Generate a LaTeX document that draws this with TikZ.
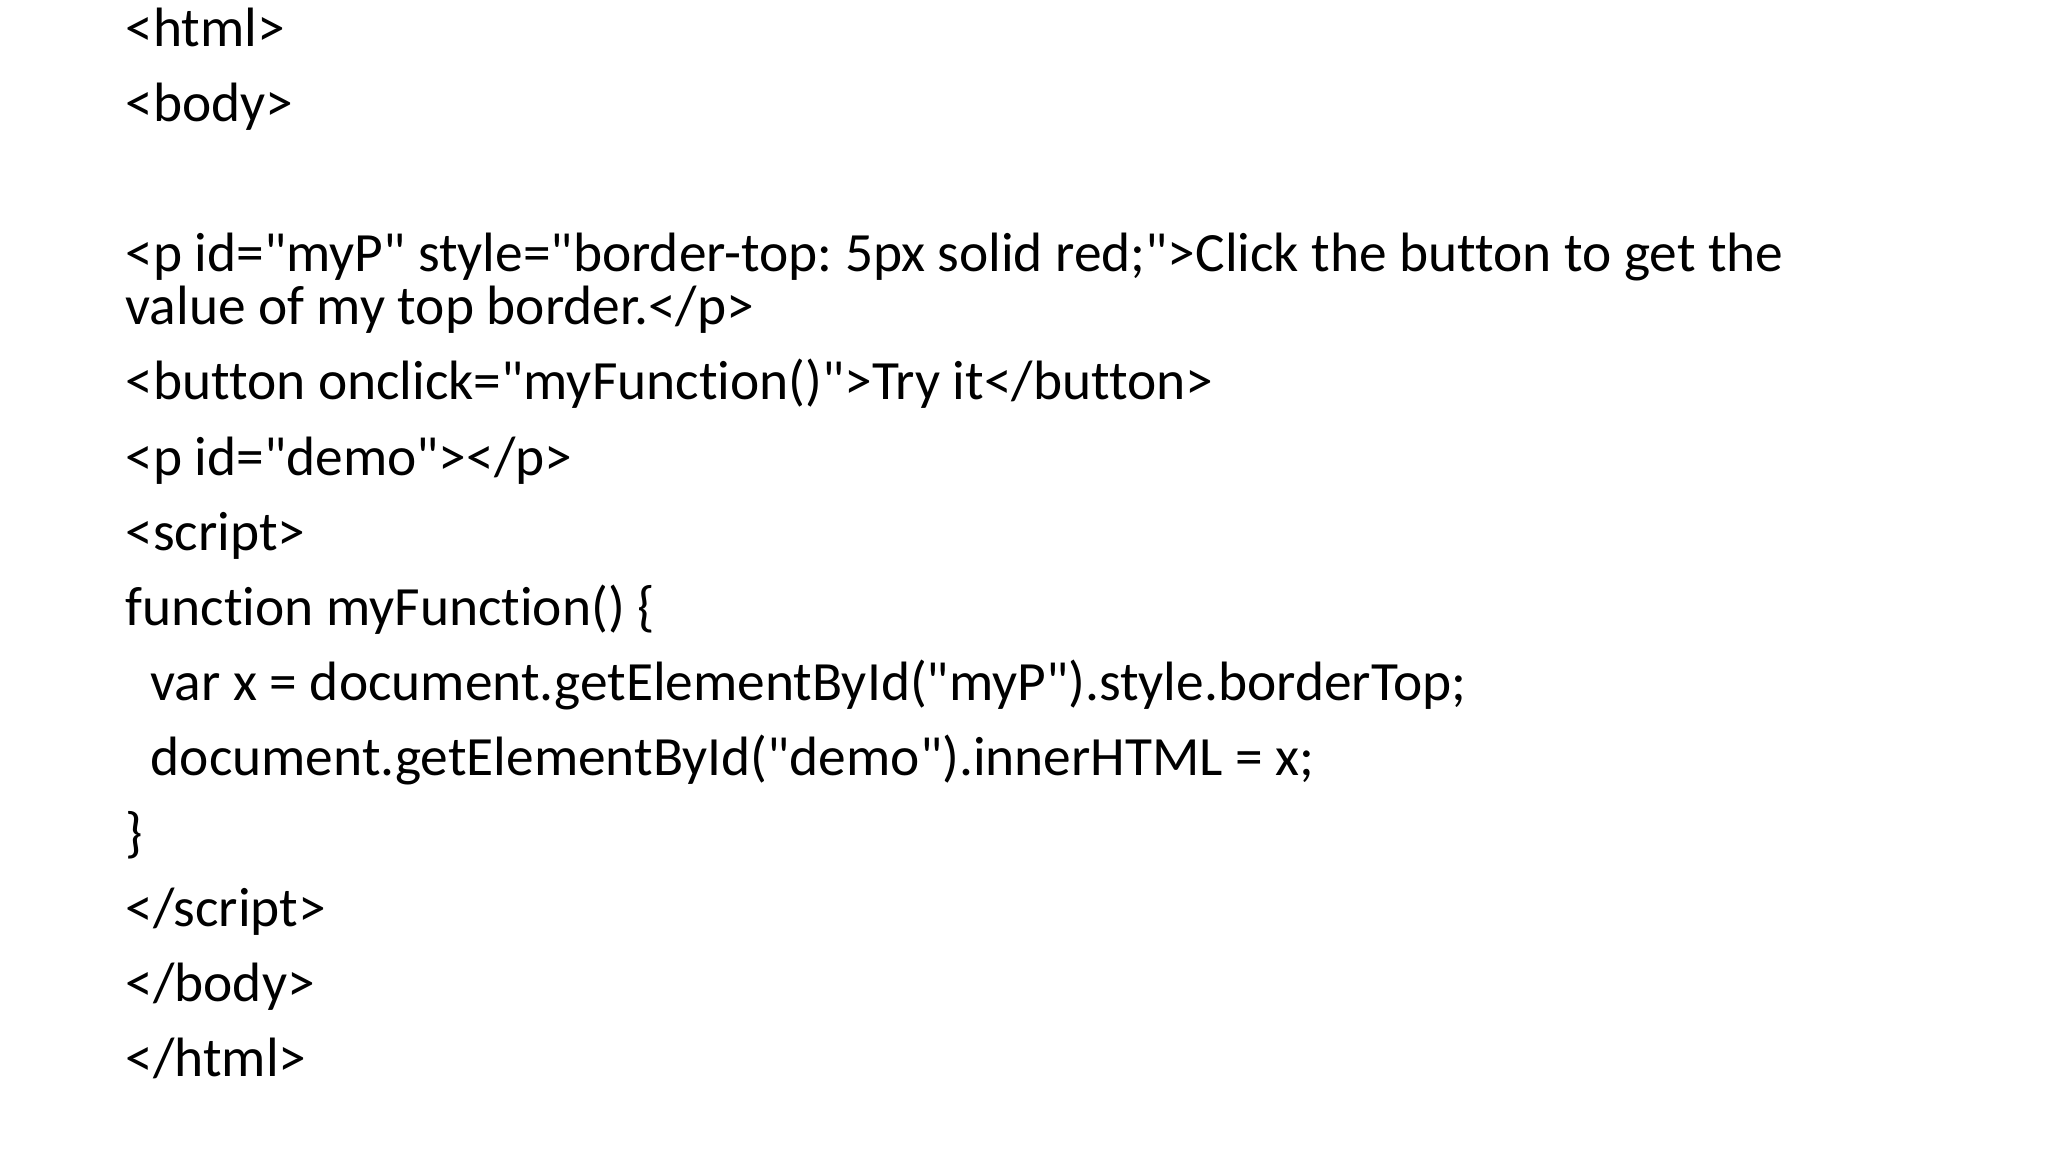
\documentclass[tikz,border=0pt]{standalone}
\usepackage{fontspec}
\setmainfont{Carlito}[Ligatures={TeXOff,NoCommon}]
\begin{document}
\frenchspacing
\begin{tikzpicture}[x=1pt,y=1pt,
  codeline/.style={anchor=base west,inner sep=0pt,font=\fontsize{42}{42}\selectfont}]
\useasboundingbox[fill=white] (0,0) rectangle (1552,-873);
\node[codeline] (l1) at (95,-35) {<html>};
\node[codeline] (l2) at (95,-92) {<body>};
\node[codeline] (l3) at (95,-206) {<p id="myP" style="border-top: 5px solid red;">Click the button to get the};
\node[codeline] (l4) at (95,-246) {value of my top border.</p>};
\node[codeline] (l5) at (95,-303) {<button onclick="myFunction()">Try it</button>};
\node[codeline] (l6) at (95,-360) {<p id="demo"></p>};
\node[codeline] (l7) at (95,-417) {<script>};
\node[codeline] (l8) at (95,-474) {function myFunction() \{};
\node[codeline] (l9) at (114,-531) {var x = document.getElementById("myP").style.borderTop;};
\node[codeline] (l10) at (114,-588) {document.getElementById("demo").innerHTML = x;};
\node[codeline] (l11) at (95,-645) {\}};
\node[codeline] (l12) at (95,-702) {</script>};
\node[codeline] (l13) at (95,-759) {</body>};
\node[codeline] (l14) at (95,-816) {</html>};
\end{tikzpicture}
\end{document}
